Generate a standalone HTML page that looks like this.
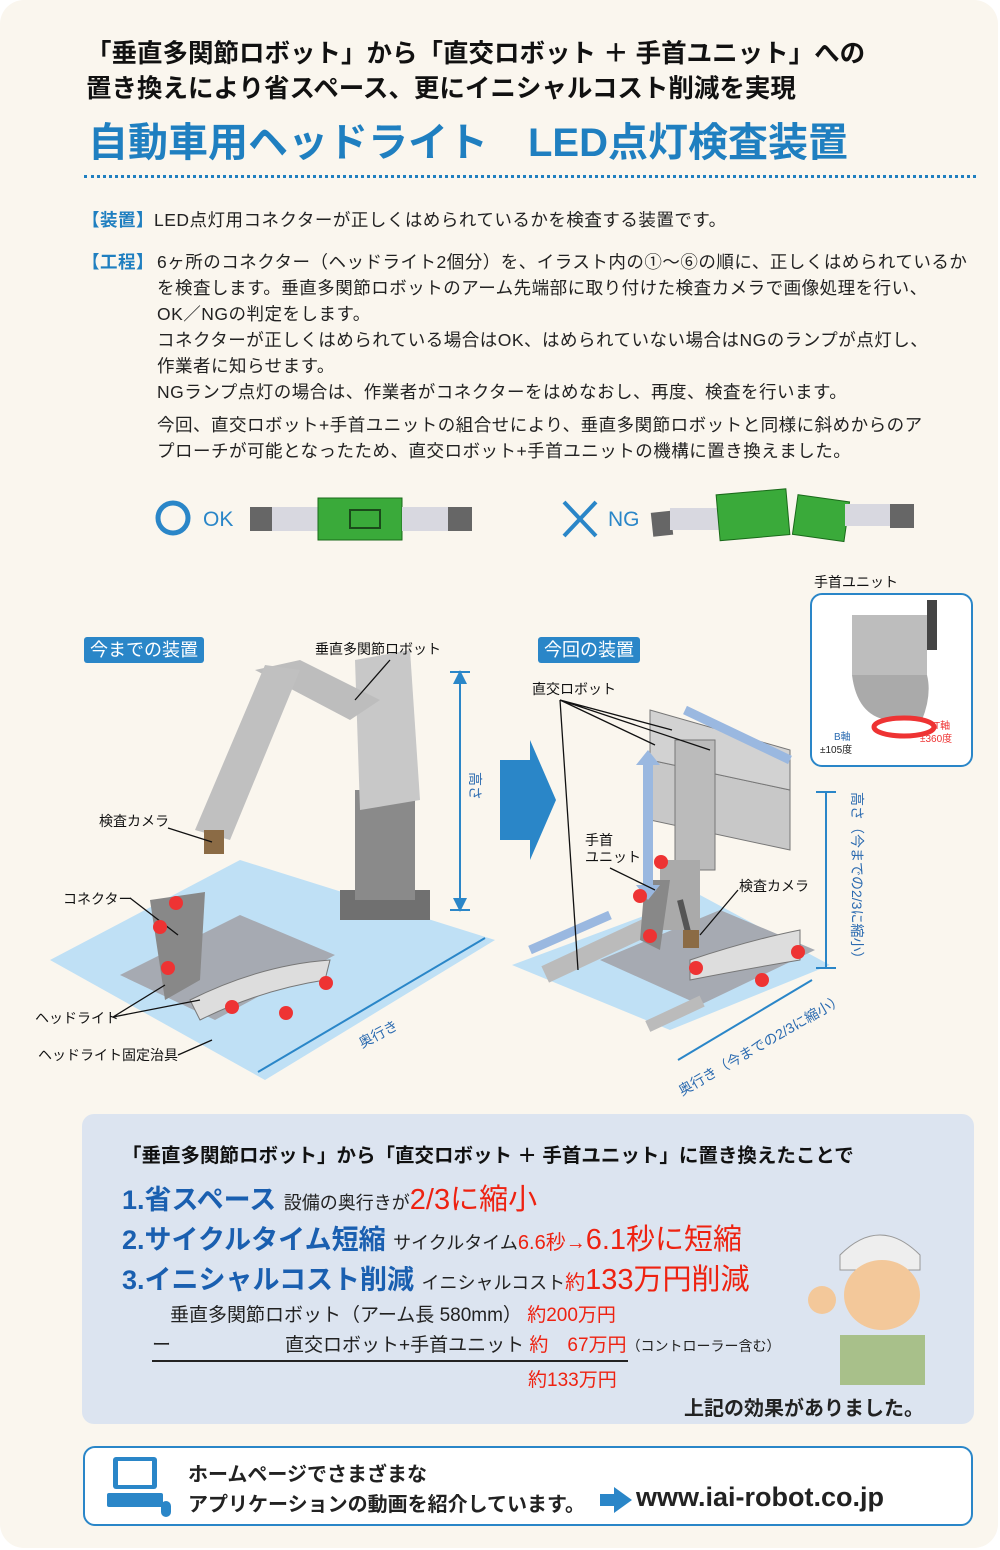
<!DOCTYPE html>
<html><head><meta charset="utf-8"><style>
*{margin:0;padding:0;box-sizing:border-box}
body{width:1000px;height:1550px;background:#fff;font-family:"Liberation Sans","Noto Sans CJK JP",sans-serif;position:relative;overflow:hidden;color:#222}
.pg{position:absolute;left:0;top:0;width:998px;height:1548px;background:#faf6ee;border-radius:24px}
.a{position:absolute;white-space:nowrap}
.h{font-weight:bold;font-size:25.5px;color:#111;letter-spacing:0px}
.t{font-size:17.5px;color:#222;letter-spacing:0.5px}
.k{color:#1f7fc0;font-weight:bold}
.lab{position:absolute;background:#2a86c8;color:#fff;font-size:18px;padding:0 6px;height:26px;line-height:26px;border-radius:3px}
.s{font-size:14px;color:#111}
.r{color:#e21;font-weight:normal;font-size:29px}
</style></head><body>
<div class="pg"></div>
<div class="a h" style="left:86px;top:33px">「垂直多関節ロボット」から「直交ロボット ＋ 手首ユニット」への</div>
<div class="a h" style="left:86px;top:68px">置き換えにより省スペース、更にイニシャルコスト削減を実現</div>
<div class="a" style="left:88px;top:110px;font-size:40px;font-weight:bold;color:#1f7fc0">自動車用ヘッドライト　LED点灯検査装置</div>
<div class="a" style="left:84px;top:175px;width:892px;border-top:3px dotted #1f7fc0"></div>
<div class="a t" style="left:82px;top:207px"><span class="k">【装置】</span>LED点灯用コネクターが正しくはめられているかを検査する装置です。</div>
<div class="a t" style="left:82px;top:249px"><span class="k">【工程】</span></div>
<div class="a t" style="left:157px;top:249px;line-height:26px">6ヶ所のコネクター（ヘッドライト2個分）を、イラスト内の①～⑥の順に、正しくはめられているか<br>を検査します。垂直多関節ロボットのアーム先端部に取り付けた検査カメラで画像処理を行い、<br>OK／NGの判定をします。<br>コネクターが正しくはめられている場合はOK、はめられていない場合はNGのランプが点灯し、<br>作業者に知らせます。<br>NGランプ点灯の場合は、作業者がコネクターをはめなおし、再度、検査を行います。</div>
<div class="a t" style="left:157px;top:412px;line-height:26px">今回、直交ロボット+手首ユニットの組合せにより、垂直多関節ロボットと同様に斜めからのア<br>プローチが可能となったため、直交ロボット+手首ユニットの機構に置き換えました。</div>

<svg class="a" style="left:0;top:480px" width="1000" height="80">
<circle cx="173" cy="38" r="15" fill="none" stroke="#2a86c8" stroke-width="5"/>
<text x="203" y="46" font-size="21" fill="#2a86c8" font-family="Liberation Sans">OK</text>
<rect x="250" y="27" width="22" height="24" fill="#666"/><rect x="272" y="27" width="46" height="24" fill="#d8d8e0"/>
<rect x="318" y="18" width="84" height="42" fill="#3aaa3a" stroke="#1a6a1a"/><rect x="350" y="30" width="30" height="18" fill="none" stroke="#1a4a1a" stroke-width="2"/>
<rect x="402" y="27" width="46" height="24" fill="#d8d8e0"/><rect x="448" y="27" width="24" height="24" fill="#666"/>
<path d="M564 22L596 56M596 22L564 56" stroke="#2a86c8" stroke-width="4"/>
<text x="608" y="46" font-size="21" fill="#2a86c8" font-family="Liberation Sans">NG</text>
<rect x="652" y="32" width="20" height="24" fill="#666" transform="rotate(-6 660 44)"/><rect x="670" y="28" width="50" height="22" fill="#d8d8e0"/>
<rect x="718" y="12" width="70" height="46" fill="#3aaa3a" stroke="#1a6a1a" transform="rotate(-5 750 35)"/>
<rect x="795" y="18" width="52" height="40" fill="#3aaa3a" stroke="#1a6a1a" transform="rotate(8 820 38)"/>
<rect x="845" y="24" width="45" height="22" fill="#d8d8e0"/><rect x="890" y="24" width="24" height="24" fill="#666"/>
</svg>

<svg class="a" style="left:0;top:560px" width="1000" height="540">
<polygon points="50,400 240,300 495,380 265,520" fill="#bfe0f5"/>
<polygon points="120,415 240,355 335,395 215,460" fill="#a6aab2"/>
<path d="M150 340 L205 332 L200 420 L165 440 Z" fill="#888"/>
<path d="M190 440 Q260 405 330 400 L325 420 Q260 430 200 460Z" fill="#ddd" stroke="#777"/>
<rect x="340" y="330" width="90" height="30" fill="#707070"/>
<rect x="355" y="230" width="60" height="110" fill="#8a8a8a"/>
<path d="M355 100 L410 90 L420 240 L360 250Z" fill="#c8c8c8"/>
<path d="M255 110 L300 100 L380 140 L350 160Z" fill="#bdbdbd"/>
<path d="M265 105 L300 110 L230 280 L195 270Z" fill="#c0c0c0"/>
<rect x="204" y="270" width="20" height="24" fill="#8b6b45"/>
<path d="M460 112 V350" stroke="#2a86c8" stroke-width="2"/><path d="M450 112H470M450 350H470" stroke="#2a86c8" stroke-width="2"/>
<path d="M453 124L460 110L467 124Z M453 338L460 352L467 338Z" fill="#2a86c8"/>
<path d="M258 512 L485 378" stroke="#2a86c8" stroke-width="2"/>
<path d="M500 200 L530 200 L530 180 L556 240 L530 300 L530 280 L500 280Z" fill="#2a86c8"/>
<polygon points="512,405 700,335 830,405 670,470" fill="#bfe0f5"/>
<polygon points="600,400 720,350 815,390 700,445" fill="#a6aab2"/>
<rect x="540" y="380" width="130" height="18" fill="#bbb" transform="rotate(-25 600 390)"/>
<rect x="645" y="450" width="60" height="12" fill="#bbb" transform="rotate(-25 670 455)"/>
<path d="M650 200 L790 230 L790 290 L650 260Z" fill="#c8c8c8" stroke="#777"/>
<path d="M650 150 L790 190 L790 230 L650 200Z" fill="#d2d2d2" stroke="#777"/>
<rect x="675" y="180" width="40" height="130" fill="#bbb" stroke="#777"/>
<rect x="660" y="300" width="40" height="70" fill="#aaa"/>
<path d="M680 340 L690 380" stroke="#555" stroke-width="6"/>
<rect x="683" y="370" width="16" height="18" fill="#8b6b45"/>
<path d="M645 320 L670 320 L660 390 L640 380Z" fill="#888"/>
<path d="M690 400 Q750 380 800 370 L800 400 Q740 410 690 420Z" fill="#ddd" stroke="#777"/>
<path d="M648 200 V330" stroke="#9ab8e0" stroke-width="10"/>
<path d="M636 205L648 190L660 205Z M636 325L648 340L660 325Z" fill="#9ab8e0"/>
<path d="M530 390 L610 355" stroke="#9ab8e0" stroke-width="9"/>
<path d="M685 150 L790 200" stroke="#9ab8e0" stroke-width="9"/>
<path d="M826 232 V408" stroke="#2a86c8" stroke-width="2"/><path d="M816 232H836M816 408H836" stroke="#2a86c8" stroke-width="2"/>
<path d="M678 500 L812 420" stroke="#2a86c8" stroke-width="2"/>
<g stroke="#111" stroke-width="1.3" fill="none">
<path d="M390 100 L355 140"/><path d="M168 268 L212 282"/><path d="M130 338 L178 375"/>
<path d="M113 457 L165 425 M113 457 L200 440"/><path d="M178 495 L212 480"/>
<path d="M560 140 L578 410 M560 140 L672 170 M560 140 L710 190 M560 140 L655 185"/>
<path d="M610 308 L655 330"/><path d="M738 330 L700 375"/>
</g>
<g fill="#e33"><circle cx="176" cy="343" r="7"/><circle cx="160" cy="367" r="7"/><circle cx="168" cy="408" r="7"/><circle cx="232" cy="447" r="7"/><circle cx="286" cy="453" r="7"/><circle cx="326" cy="423" r="7"/>
<circle cx="661" cy="302" r="7"/><circle cx="640" cy="336" r="7"/><circle cx="650" cy="376" r="7"/><circle cx="696" cy="408" r="7"/><circle cx="762" cy="420" r="7"/><circle cx="798" cy="392" r="7"/></g>
<text x="355" y="480" font-size="14" fill="#2a6ab0" transform="rotate(-28 375 470)">奥行き</text>
<text x="682" y="536" font-size="14" fill="#2a6ab0" transform="rotate(-30 682 536)">奥行き（今までの2/3に縮小）</text>
<text x="470" y="212" font-size="14" fill="#2a6ab0" transform="rotate(90 470 212)">高さ</text>
<text x="852" y="232" font-size="14" fill="#2a6ab0" transform="rotate(90 852 232)">高さ（今までの2/3に縮小）</text>
</svg>
<div class="lab" style="left:84px;top:637px">今までの装置</div>
<div class="lab" style="left:538px;top:637px">今回の装置</div>
<div class="a s" style="left:315px;top:639px">垂直多関節ロボット</div>
<div class="a s" style="left:532px;top:679px">直交ロボット</div>
<div class="a s" style="left:99px;top:811px">検査カメラ</div>
<div class="a s" style="left:63px;top:889px">コネクター</div>
<div class="a s" style="left:35px;top:1008px">ヘッドライト</div>
<div class="a s" style="left:38px;top:1045px">ヘッドライト固定治具</div>
<div class="a s" style="left:585px;top:832px;line-height:17px">手首<br>ユニット</div>
<div class="a s" style="left:739px;top:876px">検査カメラ</div>
<div class="a s" style="left:814px;top:572px">手首ユニット</div>
<div class="a" style="left:810px;top:593px;width:163px;height:174px;border:2px solid #2a86c8;border-radius:12px;background:#fff"></div>
<svg class="a" style="left:812px;top:595px" width="160" height="170">
<rect x="40" y="20" width="75" height="60" fill="#bdbdbd"/><rect x="115" y="5" width="10" height="50" fill="#444"/>
<path d="M40 80 Q45 120 75 125 L110 125 Q120 100 115 80Z" fill="#aaa"/>
<ellipse cx="92" cy="132" rx="30" ry="9" fill="none" stroke="#e33" stroke-width="5"/>
<text x="22" y="145" font-size="10" fill="#2a6ab0">B軸</text><text x="8" y="158" font-size="10" fill="#222">±105度</text>
<text x="122" y="134" font-size="10" fill="#e33">T軸</text><text x="108" y="147" font-size="10" fill="#e33">±360度</text>
</svg>

<div class="a" style="left:82px;top:1114px;width:892px;height:310px;background:#dce4f0;border-radius:12px"></div>
<div class="a" style="left:122px;top:1139px;font-size:19.5px;font-weight:bold;color:#111">「垂直多関節ロボット」から「直交ロボット ＋ 手首ユニット」に置き換えたことで</div>
<div class="a" style="left:122px;top:1176px;font-size:27px;font-weight:bold;color:#1a5fb0">1.省スペース <span style="font-size:18px;color:#222;font-weight:normal">設備の奥行きが</span><span class="r">2/3に縮小</span></div>
<div class="a" style="left:122px;top:1216px;font-size:27px;font-weight:bold;color:#1a5fb0">2.サイクルタイム短縮 <span style="font-size:18px;color:#222;font-weight:normal">サイクルタイム<span style="color:#e21;font-size:20px">6.6秒→</span></span><span class="r">6.1秒に短縮</span></div>
<div class="a" style="left:122px;top:1256px;font-size:27px;font-weight:bold;color:#1a5fb0">3.イニシャルコスト削減 <span style="font-size:18px;color:#222;font-weight:normal">イニシャルコスト<span style="color:#e21;font-size:20px">約</span></span><span class="r">133万円削減</span></div>
<div class="a" style="left:170px;top:1300px;font-size:19px">垂直多関節ロボット（アーム長 580mm）<span style="color:#e21"> 約200万円</span></div>
<div class="a" style="left:152px;top:1330px;font-size:19px">ー　　　　　　直交ロボット+手首ユニット <span style="color:#e21">約　67万円</span><span style="font-size:14px">（コントローラー含む）</span></div>
<div class="a" style="left:152px;top:1360px;width:476px;border-top:2px solid #222"></div>
<div class="a" style="left:528px;top:1365px;font-size:19px;color:#e21">約133万円</div>
<div class="a" style="left:684px;top:1392px;font-size:20px;font-weight:bold">上記の効果がありました。</div>
<svg class="a" style="left:800px;top:1215px" width="130" height="170">
<path d="M40 40 Q80 0 120 40 L120 55 L40 55Z" fill="#eee" stroke="#999"/>
<ellipse cx="82" cy="80" rx="38" ry="35" fill="#f3c89a"/>
<path d="M40 120 L125 120 L125 170 L40 170Z" fill="#a8c08a"/>
<circle cx="22" cy="85" r="14" fill="#f3c89a"/>
</svg>

<div class="a" style="left:83px;top:1446px;width:890px;height:80px;border:2.5px solid #2a86c8;border-radius:12px;background:#fff"></div>
<svg class="a" style="left:105px;top:1455px" width="70" height="66">
<rect x="8" y="2" width="44" height="32" rx="3" fill="#2a86c8"/><rect x="13" y="6" width="34" height="24" fill="#fff"/>
<rect x="2" y="38" width="56" height="14" rx="2" fill="#2a86c8"/><rect x="56" y="46" width="10" height="16" rx="5" fill="#2a86c8"/>
</svg>
<div class="a" style="left:188px;top:1460px;font-size:20px;font-weight:bold;line-height:30px">ホームページでさまざまな<br>アプリケーションの動画を紹介しています。</div>
<svg class="a" style="left:598px;top:1486px" width="36" height="28"><path d="M2 8H16V1L34 14L16 27V20H2Z" fill="#2a86c8"/></svg>
<div class="a" style="left:636px;top:1482px;font-size:27px;font-weight:bold">www.iai-robot.co.jp</div>
</body></html>
